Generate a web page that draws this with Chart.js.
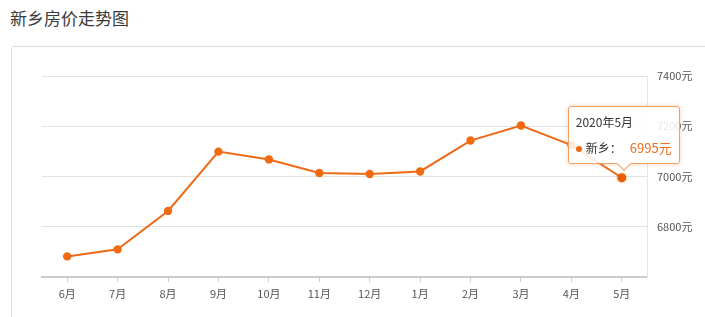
<!DOCTYPE html>
<html>
<head>
<meta charset="utf-8">
<script src="https://cdn.jsdelivr.net/npm/chart.js@4"></script>
<style>
    body { margin: 0; width: 705px; height: 317px; overflow: hidden; background: #fff; font-family: "Noto Sans CJK SC", "Noto Sans", sans-serif; position: relative; }
    #title { position: absolute; left: 10px; top: 5px; font-size: 17px; color: #3a3a3a; }
    #panel { position: absolute; left: 11px; top: 46px; width: 720px; height: 300px; border: 1px solid #ddd; border-radius: 3px; }
    #wrap { position: absolute; left: 0; top: 0; width: 705px; height: 317px; }
    #tip { position: absolute; display: none; background: rgba(255, 255, 255, 0.85); border: 1px solid #f0a060; border-radius: 3px; box-shadow: 0 0 4px rgba(240, 120, 40, 0.35); padding: 6px 7px; font-size: 12px; color: #333; white-space: nowrap; }
    #tip .dot { display: inline-block; width: 6px; height: 6px; border-radius: 3px; background: #f26a10; margin-right: 4px; vertical-align: middle; }
    #tip .val { color: #f0701e; font-size: 13px; margin-left: 8px; }
    #tip .arrow { position: absolute; left: 50%; bottom: -6px; width: 9px; height: 9px; margin-left: -5px; background: #fff; border-right: 1px solid #f0a060; border-bottom: 1px solid #f0a060; transform: rotate(45deg); }
</style>
</head>
<body>
<div id="title">新乡房价走势图</div>
<div id="panel"></div>
<div id="wrap"><canvas id="priceChart" width="705" height="317"></canvas></div>
<div id="tip"></div>
<script>
const months = ['2019年6月', '2019年7月', '2019年8月', '2019年9月', '2019年10月', '2019年11月', '2019年12月', '2020年1月', '2020年2月', '2020年3月', '2020年4月', '2020年5月'];
const tickLabels = ['6月', '7月', '8月', '9月', '10月', '11月', '12月', '1月', '2月', '3月', '4月', '5月'];
const prices = [6682, 6710, 6863, 7099, 7068, 7014, 7010, 7020, 7143, 7203, 7125, 6995];
const yTicks = [6600, 6800, 7000, 7200, 7400];

const orange = '#ef6a16';

function externalTip(context) {
    let tip = document.getElementById('tip');
    let model = context.tooltip;
    if (model.opacity === 0) {
        tip.style.display = 'none';
        return;
    }
    let i = model.dataPoints[0].dataIndex;
    tip.innerHTML = '<div style="margin-bottom:8px">' + months[i] + '</div>' +
        '<div><span class="dot"></span>新乡：<span class="val">' + prices[i] + '元</span></div>' +
        '<div class="arrow"></div>';
    tip.style.display = 'block';
    let w = tip.offsetWidth, h = tip.offsetHeight;
    tip.style.left = (model.caretX - w / 2 + 2) + 'px';
    tip.style.top = (model.caretY - h - 14) + 'px';
}

let ctx = document.getElementById('priceChart').getContext('2d');
let priceChart = new Chart(ctx, {
    type: 'line',
    data: {
        labels: tickLabels,
        datasets: [
            {
                label: '新乡',
                data: prices,
                borderColor: orange,
                backgroundColor: '#f26a10',
                borderWidth: 2,
                pointRadius: 4.2,
                pointBorderWidth: 0,
                pointHoverRadius: 4.5,
                pointHoverBorderWidth: 3,
                pointHoverBorderColor: 'rgba(242, 106, 16, 0.12)',
                tension: 0,
            },
        ],
    },
    options: {
        responsive: false,
        animation: false,
        events: [],
        layout: { padding: { left: 42, top: 76, right: 0, bottom: 0 } },
        plugins: {
            legend: { display: false },
            tooltip: { enabled: false, external: externalTip },
        },
        scales: {
            x: {
                type: 'category',
                offset: true,
                afterFit: s => { s.height = 40; },
                grid: { drawOnChartArea: false, drawTicks: true, tickLength: 5, color: '#ccc' },
                border: { display: true, color: '#ccc', width: 2 },
                ticks: { color: '#555', padding: 5, font: { size: 11, family: '"Noto Sans CJK SC", sans-serif' } },
            },
            y: {
                type: 'linear',
                position: 'right',
                min: 6600,
                max: 7400,
                afterFit: s => { s.width = 58; },
                afterBuildTicks: s => { s.ticks = yTicks.map(v => ({ value: v })); },
                grid: { color: '#e2e2e2', drawTicks: false },
                border: { display: true, color: '#e6e6e6' },
                ticks: {
                    color: '#555',
                    padding: 10,
                    font: { size: 11, family: '"Noto Sans CJK SC", sans-serif' },
                    callback: (v, i) => (v === 6600 ? '' : v + '元'),
                },
            },
        },
    },
});

let last = prices.length - 1;
let pt = priceChart.getDatasetMeta(0).data[last];
priceChart.setActiveElements([{ datasetIndex: 0, index: last }]);
priceChart.tooltip.setActiveElements([{ datasetIndex: 0, index: last }], { x: pt.x, y: pt.y });
priceChart.update();
</script>
</body>
</html>
